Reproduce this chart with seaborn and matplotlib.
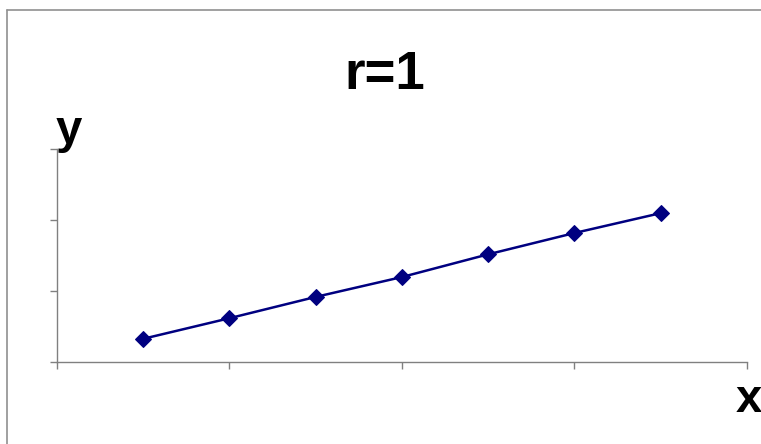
import matplotlib
matplotlib.use("Agg")
import matplotlib.pyplot as plt
from matplotlib.lines import Line2D
import seaborn as sns
import pandas as pd

# values
x_vals = [0.5, 1.0, 1.5, 2.0, 2.5, 3.0, 3.5]
y_vals = [0.32, 0.61, 0.91, 1.19, 1.51, 1.81, 2.09]
x_ticks = [0, 1, 2, 3, 4]
y_ticks = [0, 1, 2, 3]
title = "r=1"

sns.set_style("white")
plt.rcParams["font.family"] = ["Liberation Sans", "DejaVu Sans"]
plt.rcParams["text.color"] = "black"

df = pd.DataFrame({"x": x_vals, "y": y_vals})

fig = plt.figure(figsize=(7.61, 4.44), dpi=100)
ax = fig.add_axes([0.0749, 0.1858, 0.9067, 0.4797])

sns.lineplot(data=df, x="x", y="y", ax=ax, color="#000080", linewidth=1.8,
             marker="D", markersize=8, markeredgecolor="#000080")

ax.set_xlim(0, 4)
ax.set_ylim(0, 3)
ax.set_xticks(x_ticks)
ax.set_yticks(y_ticks)
ax.set_xticklabels([])
ax.set_yticklabels([])
ax.set_xlabel("")
ax.set_ylabel("")
ax.tick_params(axis="both", direction="out", length=5, width=1, color="#808080",
               bottom=True, left=True)
for side in ["top", "right"]:
    ax.spines[side].set_visible(False)
for side in ["left", "bottom"]:
    ax.spines[side].set_color("#808080")
    ax.spines[side].set_linewidth(1)

# chart area border (top and left edges visible)
fig.add_artist(Line2D([7 / 761, 1], [1 - 10 / 444, 1 - 10 / 444], color="#909090", lw=1.2))
fig.add_artist(Line2D([7 / 761, 7 / 761], [0, 1 - 10 / 444], color="#909090", lw=1.2))

fig.text(0.505, 0.83, title, ha="center", va="center", fontsize=38, fontweight="bold", color="black")
fig.text(0.09, 0.705, "y", ha="center", va="center", fontsize=34, fontweight="bold", color="black")
fig.text(0.984, 0.10, "x", ha="center", va="center", fontsize=34, fontweight="bold", color="black")

fig.savefig("out.png", dpi=100)
